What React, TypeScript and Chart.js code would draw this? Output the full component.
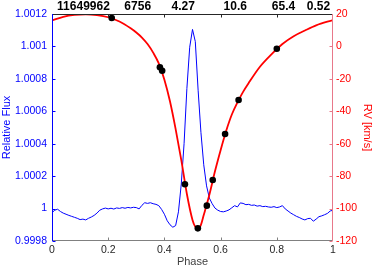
import React, { useEffect, useRef } from 'react';
import { Chart, registerables } from 'chart.js';

Chart.register(...registerables);

// Light curve (blue): phase 0..1 step 0.01
const fluxPhase: number[] = Array.from({ length: 101 }, (_, i) => i / 100);
const flux: number[] = [
  0.999975, 0.99999, 0.999996, 0.999982, 0.999972, 0.999965, 0.999958, 0.999952, 0.999946, 0.99994,
  0.999932, 0.999935, 0.99993, 0.99994, 0.999948, 0.999958, 0.999972, 0.99999, 0.999998, 1.000003,
  0.999998, 1.000002, 0.999997, 1.000004, 1.000001, 1.000006, 1.000002, 1.000007, 1.000004, 1.000008,
  1.000006, 0.999998, 1.00002, 1.000036, 1.000032, 1.000036, 1.00003, 1.000026, 1.000018, 0.999995,
  0.999965, 0.999925, 0.9999, 0.999885, 0.999895, 0.99998, 1.00015, 1.0004, 1.00074, 1.000995,
  1.001105, 1.00103, 1.00073, 1.00047, 1.00027, 1.00014, 1.000065, 1.00003, 1.000003, 0.99999,
  0.999982, 0.99998, 0.999985, 0.999992, 1.000005, 1.000018, 1.00001, 1.000035, 1.000032, 1.000024,
  1.000026, 1.00002, 1.000022, 1.000015, 1.000018, 1.000012, 1.000014, 1.00001, 1.000008, 1.000012,
  1.000006, 1.00001, 1.000018, 0.999998, 0.999985, 0.999972, 0.999962, 0.999952, 0.999945, 0.999936,
  0.99993, 0.999938, 0.99994, 0.999922, 0.999935, 0.99995, 0.999955, 0.999962, 0.99997, 0.999985,
  0.99999,
];

// RV model curve (red)
const rvPhase: number[] = [
  0, 0.04, 0.08, 0.12, 0.16, 0.2, 0.24, 0.28, 0.3, 0.32, 0.34, 0.36, 0.38, 0.4, 0.42, 0.44, 0.46,
  0.48, 0.5, 0.51, 0.52, 0.53, 0.54, 0.56, 0.58, 0.6, 0.62, 0.64, 0.66, 0.68, 0.7, 0.74, 0.78, 0.82,
  0.86, 0.9, 0.94, 1,
];
const rvModel: number[] = [
  16, 18.3, 19.5, 19.8, 19.3, 18, 15.4, 11.2, 8.6, 5.5, 1.5, -3.8, -10.5, -20.5, -34, -51, -70,
  -91, -107, -111.3, -112.5, -110, -104, -91.5, -77, -64, -52, -42, -34.5, -28, -22.5, -12.5, -5,
  1.5, 6.3, 9.8, 13, 16.3,
];

// RV observations (black dots)
const obsPhase: number[] = [0.2125, 0.384, 0.392, 0.473, 0.519, 0.551, 0.572, 0.616, 0.664, 0.8];
const obsRV: number[] = [17.5, -12.9, -15.0, -85.0, -112.2, -98.2, -82.4, -54.0, -33.0, -1.4];

// Top annotations
const topLabels: string[] = ['11649962', '6756', '4.27', '10.6', '65.4', '0.52'];
const topLabelPhase: number[] = [0.112, 0.305, 0.467, 0.652, 0.824, 0.948];

// Tick values
const xTicks: number[] = [0, 0.2, 0.4, 0.6, 0.8, 1];
const fluxTicks: number[] = [0.9998, 1, 1.0002, 1.0004, 1.0006, 1.0008, 1.001, 1.0012];
const rvTicks: number[] = [-120, -100, -80, -60, -40, -20, 0, 20];

const FONT = '"Liberation Sans", Arial, Helvetica, sans-serif';
const BLUE = '#0000ff';
const RED = '#ff0000';
const PINK = '#e8788a';
const GRAY = '#262626';

const framePlugin = {
  id: 'frame',
  afterDraw(chart: any) {
    const { ctx, chartArea, scales } = chart;
    const { left, right, top, bottom } = chartArea;
    ctx.save();
    ctx.lineWidth = 1;
    const line = (x1: number, y1: number, x2: number, y2: number, c: string) => {
      ctx.strokeStyle = c;
      ctx.beginPath();
      ctx.moveTo(x1, y1);
      ctx.lineTo(x2, y2);
      ctx.stroke();
    };
    const L = left + 0.5, R = right - 0.5, T = top + 0.5, B = bottom - 0.5;
    // ticks
    xTicks.forEach((v) => {
      if (v === 0 || v === 1) return;
      const x = Math.round(scales.x.getPixelForValue(v)) + 0.5;
      line(x, B, x, B - 3, '#808080');
      line(x, T, x, T + 3, GRAY);
    });
    fluxTicks.forEach((v) => {
      const y = Math.round(scales.y.getPixelForValue(v)) + 0.5;
      line(L, y, L + 3, y, BLUE);
    });
    rvTicks.forEach((v) => {
      const y = Math.round(scales.y1.getPixelForValue(v)) + 0.5;
      line(R, y, R - 3, y, PINK);
    });
    // box
    line(left, B, right, B, '#808080');
    line(left, T, right, T, GRAY);
    line(L, top, L, bottom, BLUE);
    line(R, top, R, bottom, PINK);
    // top labels
    ctx.fillStyle = '#000';
    ctx.font = `bold 12px ${FONT}`;
    ctx.textAlign = 'center';
    ctx.textBaseline = 'alphabetic';
    topLabels.forEach((t, i) => {
      ctx.fillText(t, scales.x.getPixelForValue(topLabelPhase[i]), 10);
    });
    ctx.restore();
  },
};

export default function App() {
  const ref = useRef<HTMLCanvasElement | null>(null);
  useEffect(() => {
    if (!ref.current) return;
    Chart.defaults.font.family = FONT;
    const chart = new Chart(ref.current, {
      type: 'scatter',
      data: {
        datasets: [
          {
            label: 'obs',
            data: obsPhase.map((p, i) => ({ x: p, y: obsRV[i] })),
            yAxisID: 'y1',
            showLine: false,
            pointRadius: 3.3,
            pointBackgroundColor: '#000',
            pointBorderColor: '#000',
            pointBorderWidth: 0,
          },
          {
            label: 'rv',
            data: rvPhase.map((p, i) => ({ x: p, y: rvModel[i] })),
            yAxisID: 'y1',
            showLine: true,
            borderColor: RED,
            borderWidth: 1.8,
            pointRadius: 0,
            cubicInterpolationMode: 'monotone',
          },
          {
            label: 'flux',
            data: fluxPhase.map((p, i) => ({ x: p, y: flux[i] })),
            yAxisID: 'y',
            showLine: true,
            borderColor: BLUE,
            borderWidth: 1,
            pointRadius: 0,
            tension: 0,
          },
        ],
      },
      options: {
        responsive: false,
        animation: false,
        devicePixelRatio: 1,
        layout: { padding: { top: 14, left: 0, right: 0, bottom: 0 } },
        plugins: { legend: { display: false }, tooltip: { enabled: false } },
        scales: {
          x: {
            type: 'linear',
            position: 'bottom',
            min: 0,
            max: 1,
            grid: { display: false, drawTicks: false },
            border: { display: false },
            afterBuildTicks: (s: any) => { s.ticks = xTicks.map((v) => ({ value: v })); },
            afterFit: (s: any) => { s.height = 28; },
            ticks: {
              color: GRAY,
              font: { size: 10.5 },
              padding: 3,
              maxRotation: 0,
              autoSkip: false,
              callback: (v: any) => String(parseFloat(Number(v).toFixed(2))),
            },
            title: { display: true, text: 'Phase', color: '#404040', font: { size: 11 }, padding: 0 },
          },
          y: {
            type: 'linear',
            position: 'left',
            min: 0.9998,
            max: 1.0012,
            grid: { display: false, drawTicks: false },
            border: { display: false },
            afterBuildTicks: (s: any) => { s.ticks = fluxTicks.map((v) => ({ value: v })); },
            afterFit: (s: any) => { s.width = 52; },
            ticks: {
              color: BLUE,
              font: { size: 10.5 },
              padding: 5,
              autoSkip: false,
              callback: (v: any) => String(parseFloat(Number(v).toFixed(4))),
            },
            title: { display: true, text: 'Relative Flux', color: BLUE, font: { size: 11 }, padding: 0 },
          },
          y1: {
            type: 'linear',
            position: 'right',
            min: -120,
            max: 20,
            grid: { display: false, drawTicks: false },
            border: { display: false },
            afterBuildTicks: (s: any) => { s.ticks = rvTicks.map((v) => ({ value: v })); },
            afterFit: (s: any) => { s.width = 41; },
            ticks: {
              color: RED,
              font: { size: 10.5 },
              padding: 3,
              autoSkip: false,
              callback: (v: any) => String(Math.round(Number(v))),
            },
            title: { display: true, text: 'RV [km/s]', color: RED, font: { size: 11 }, padding: 0 },
          },
        },
      },
      plugins: [framePlugin],
    } as any);
    return () => chart.destroy();
  }, []);
  return (
    <div style={{ position: 'fixed', left: 0, top: 0, width: 374, height: 269, background: '#fff' }}>
      <canvas ref={ref} width={374} height={269} style={{ width: 374, height: 269, display: 'block' }} />
    </div>
  );
}
